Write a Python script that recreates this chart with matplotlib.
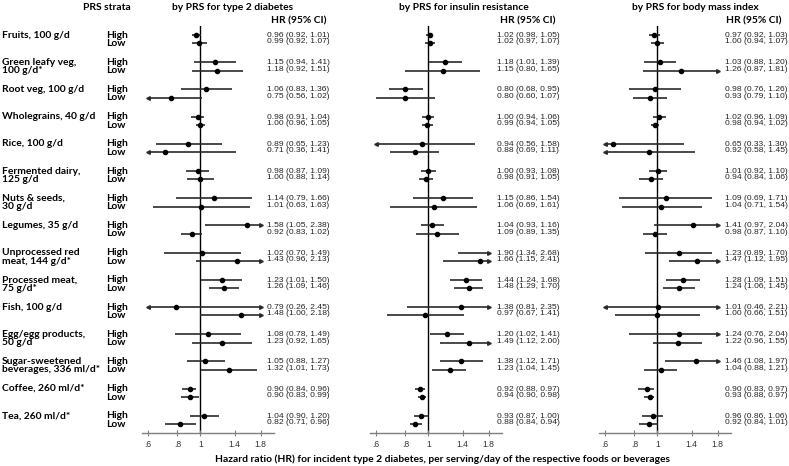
import matplotlib
matplotlib.use('Agg')
import matplotlib.pyplot as plt
import matplotlib.transforms as mtransforms

# Food groups (first line goes on the "High" row, second on the "Low" row)
foods = [
    'Fruits, 100 g/d', 'Green leafy veg,\n100 g/d*', 'Root veg, 100 g/d',
    'Wholegrains, 40 g/d', 'Rice, 100 g/d', 'Fermented dairy,\n125 g/d',
    'Nuts & seeds,\n30 g/d', 'Legumes, 35 g/d', 'Unprocessed red\nmeat, 144 g/d*',
    'Processed meat,\n75 g/d*', 'Fish, 100 g/d', 'Egg/egg products,\n50 g/d',
    'Sugar-sweetened\nbeverages, 336 ml/d*', 'Coffee, 260 ml/d*', 'Tea, 260 ml/d*',
]
strata = ['High', 'Low']
panel_titles = ['by PRS for type 2 diabetes', 'by PRS for insulin resistance',
                'by PRS for body mass index']
tick_vals = [0.6, 0.8, 1, 1.4, 1.8]
tick_labels = ['.6', '.8', '1', '1.4', '1.8']

# PRS for type 2 diabetes
t2d_high_hr = [0.96, 1.15, 1.06, 0.98, 0.89, 0.98, 1.14, 1.58, 1.02, 1.23, 0.79, 1.08, 1.05, 0.90, 1.04]
t2d_high_lo = [0.92, 0.94, 0.83, 0.91, 0.65, 0.87, 0.79, 1.05, 0.70, 1.01, 0.26, 0.78, 0.88, 0.84, 0.90]
t2d_high_hi = [1.01, 1.41, 1.36, 1.04, 1.23, 1.09, 1.66, 2.38, 1.49, 1.50, 2.45, 1.49, 1.27, 0.96, 1.20]
t2d_low_hr = [0.99, 1.18, 0.75, 1.00, 0.71, 1.00, 1.01, 0.92, 1.43, 1.26, 1.48, 1.23, 1.32, 0.90, 0.82]
t2d_low_lo = [0.92, 0.92, 0.56, 0.96, 0.36, 0.88, 0.63, 0.83, 0.96, 1.09, 1.00, 0.92, 1.01, 0.83, 0.71]
t2d_low_hi = [1.07, 1.51, 1.02, 1.05, 1.41, 1.14, 1.63, 1.02, 2.13, 1.46, 2.18, 1.65, 1.73, 0.99, 0.96]

# PRS for insulin resistance
ir_high_hr = [1.02, 1.18, 0.80, 1.00, 0.94, 1.00, 1.15, 1.04, 1.90, 1.44, 1.38, 1.20, 1.38, 0.92, 0.93]
ir_high_lo = [0.98, 1.01, 0.68, 0.94, 0.56, 0.93, 0.86, 0.93, 1.34, 1.24, 0.81, 1.02, 1.12, 0.88, 0.87]
ir_high_hi = [1.05, 1.39, 0.95, 1.06, 1.58, 1.08, 1.54, 1.16, 2.68, 1.68, 2.35, 1.41, 1.71, 0.97, 1.00]
ir_low_hr = [1.02, 1.15, 0.80, 0.99, 0.88, 0.98, 1.06, 1.09, 1.66, 1.48, 0.97, 1.49, 1.23, 0.94, 0.88]
ir_low_lo = [0.97, 0.80, 0.60, 0.94, 0.69, 0.91, 0.69, 0.89, 1.15, 1.29, 0.67, 1.12, 1.04, 0.90, 0.84]
ir_low_hi = [1.07, 1.65, 1.07, 1.05, 1.11, 1.05, 1.61, 1.35, 2.41, 1.70, 1.41, 2.00, 1.45, 0.98, 0.94]

# PRS for body mass index
bmi_high_hr = [0.97, 1.03, 0.98, 1.02, 0.65, 1.01, 1.09, 1.41, 1.23, 1.28, 1.01, 1.24, 1.46, 0.90, 0.96]
bmi_high_lo = [0.92, 0.88, 0.76, 0.96, 0.33, 0.92, 0.69, 0.97, 0.89, 1.09, 0.46, 0.76, 1.08, 0.83, 0.86]
bmi_high_hi = [1.03, 1.20, 1.26, 1.09, 1.30, 1.10, 1.71, 2.04, 1.70, 1.51, 2.21, 2.04, 1.97, 0.97, 1.06]
bmi_low_hr = [1.00, 1.26, 0.93, 0.98, 0.92, 0.94, 1.04, 0.98, 1.47, 1.24, 1.00, 1.22, 1.04, 0.93, 0.92]
bmi_low_lo = [0.94, 0.87, 0.79, 0.94, 0.58, 0.84, 0.71, 0.87, 1.12, 1.06, 0.66, 0.96, 0.88, 0.88, 0.84]
bmi_low_hi = [1.07, 1.81, 1.10, 1.02, 1.45, 1.06, 1.54, 1.10, 1.95, 1.45, 1.51, 1.55, 1.21, 0.97, 1.01]

panels = [
    ((t2d_high_hr, t2d_high_lo, t2d_high_hi), (t2d_low_hr, t2d_low_lo, t2d_low_hi)),
    ((ir_high_hr, ir_high_lo, ir_high_hi), (ir_low_hr, ir_low_lo, ir_low_hi)),
    ((bmi_high_hr, bmi_high_lo, bmi_high_hi), (bmi_low_hr, bmi_low_lo, bmi_low_hi)),
]

# layout in pixels of the 789x466 reference
W, H = 789, 466
def fx(px):
    return px / W
def fy(py):
    return 1 - py / H

ax_left = [142, 370, 599]
ax_width = 132
ax_top, ax_bottom = 26, 433
row0, pitch = 35, 27.2          # pixel y of first "High" row, spacing of food groups
low_off = 0.31                  # "Low" row offset, in rows
title_x = [233, 464, 695]
hrhead_x = [299, 528, 754]
ci_x = [267, 497, 725]
xmin, xmax = 0.566, 2.05
clip_lo, clip_hi = 0.6, 1.8

bold_font = 'Lato'
num_font = 'Liberation Sans'
lab_size = 7.4
ci_size = 6.1
line_col = '#2a2a2a'

fig = plt.figure(figsize=(W / 100, H / 100), dpi=100)
fig.patch.set_facecolor('white')

ylim_top = (ax_top - row0) / pitch
ylim_bot = (ax_bottom - row0) / pitch

axes = []
for p, (high, low) in enumerate(panels):
    ax = fig.add_axes([fx(ax_left[p]), fy(ax_bottom), ax_width / W, (ax_bottom - ax_top) / H])
    ax.set_xscale('log')
    ax.set_xlim(xmin, xmax)
    ax.set_ylim(ylim_bot, ylim_top)
    ax.axvline(1, color='black', lw=1.0, zorder=1)
    trans = mtransforms.blended_transform_factory(fig.transFigure, ax.transData)

    for s, (hr, lo, hi) in enumerate([high, low]):
        for i in range(len(foods)):
            y = i + s * low_off
            a = max(lo[i], clip_lo)
            b = min(hi[i], clip_hi)
            ax.plot([a, b], [y, y], color=line_col, lw=1.2, solid_capstyle='butt', zorder=2)
            if lo[i] < clip_lo:
                ax.plot(clip_lo, y, marker='<', ms=2.6, color=line_col, zorder=3)
            if hi[i] > clip_hi:
                ax.plot(clip_hi, y, marker='>', ms=2.6, color=line_col, zorder=3)
            if clip_lo <= hr[i] <= clip_hi:
                ax.plot(hr[i], y, marker='o', ms=3.0, color='black', zorder=4)

            # HR (95% CI) text column
            ci_y = i + (0.02 if s == 0 else 0.255)
            ax.text(fx(ci_x[p]), ci_y, f'{hr[i]:.2f} ({lo[i]:.2f}, {hi[i]:.2f})',
                    transform=trans, ha='left', va='center', fontsize=ci_size,
                    family=num_font, color='#222222')

    for sp in ['top', 'left', 'right']:
        ax.spines[sp].set_visible(False)
    ax.spines['bottom'].set_color('#7f7f7f')
    ax.spines['bottom'].set_linewidth(1.0)
    ax.set_yticks([])
    ax.set_xticks(tick_vals)
    ax.set_xticklabels(tick_labels)
    ax.xaxis.set_minor_locator(plt.NullLocator())
    ax.tick_params(axis='x', direction='inout', length=5, width=0.8, color='#7f7f7f',
                   labelsize=6.2, labelcolor='#333333', pad=2.5)
    for lab in ax.get_xticklabels():
        lab.set_family(num_font)
    ax.patch.set_alpha(0)
    axes.append(ax)

    fig.text(fx(title_x[p]), fy(7), panel_titles[p], ha='center', va='center',
             fontsize=lab_size, family=bold_font, weight='bold')
    fig.text(fx(hrhead_x[p]), fy(21), 'HR (95% CI)', ha='center', va='center',
             fontsize=lab_size, family=bold_font, weight='bold')

# row labels on the left, aligned with the first panel's rows
trans0 = mtransforms.blended_transform_factory(fig.transFigure, axes[0].transData)
for i, name in enumerate(foods):
    for k, part in enumerate(name.split('\n')):
        axes[0].text(fx(2), i + k * low_off, part, transform=trans0, ha='left', va='center',
                     fontsize=lab_size, family=bold_font, weight='bold', clip_on=False)
    for s, st in enumerate(strata):
        axes[0].text(fx(106), i + s * low_off, st, transform=trans0, ha='left', va='center',
                     fontsize=lab_size, family=bold_font, weight='bold', clip_on=False)

fig.text(fx(107), fy(7), 'PRS strata', ha='center', va='center',
         fontsize=lab_size, family=bold_font, weight='bold')
fig.text(fx(442), fy(459), 'Hazard ratio (HR) for incident type 2 diabetes, per serving/day '
         'of the respective foods or beverages', ha='center', va='center',
         fontsize=lab_size, family=bold_font, weight='bold')

fig.savefig('out.png', dpi=100, facecolor='white')
